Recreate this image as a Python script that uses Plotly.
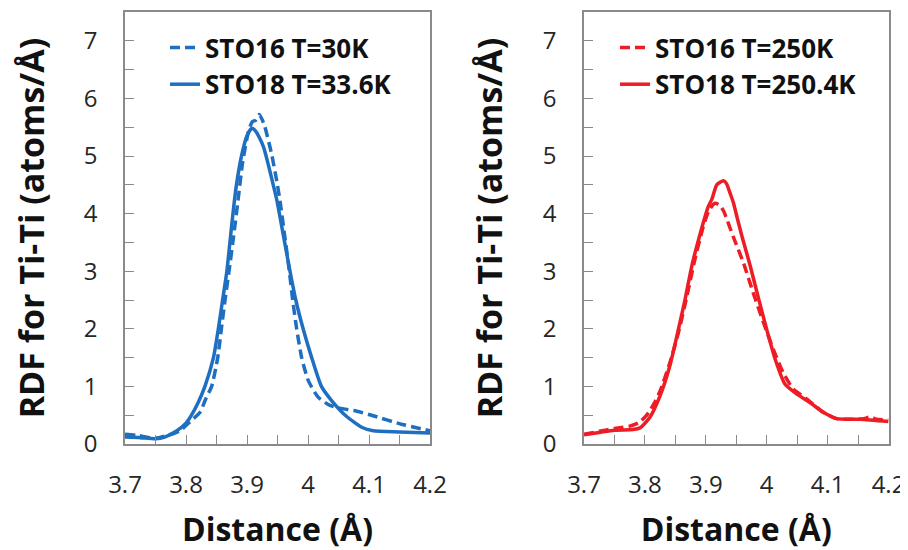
import plotly.graph_objects as go

# ---------------- data ----------------
blue_solid_x = [3.700, 3.725, 3.750, 3.765, 3.785, 3.800, 3.809, 3.820, 3.831, 3.845, 3.853, 3.860,
                3.867, 3.872, 3.877, 3.882, 3.891, 3.900, 3.908, 3.915, 3.927, 3.943, 3.949, 3.960,
                3.9705, 3.980, 3.992, 4.006, 4.022, 4.039, 4.061, 4.088, 4.107, 4.150, 4.200]
blue_solid_y = [0.12, 0.11, 0.09, 0.12, 0.23, 0.36, 0.50, 0.72, 1.00, 1.50, 2.00, 2.50,
                3.00, 3.50, 4.00, 4.45, 5.00, 5.35, 5.48, 5.42, 5.16, 4.50, 4.23, 3.60,
                3.00, 2.50, 2.00, 1.50, 1.00, 0.75, 0.50, 0.29, 0.23, 0.21, 0.19]

blue_dash_x = [3.700, 3.720, 3.750, 3.770, 3.790, 3.806, 3.823, 3.833, 3.842, 3.852, 3.858, 3.864,
               3.8705, 3.878, 3.8853, 3.893, 3.903, 3.909, 3.914, 3.920, 3.928, 3.940, 3.949, 3.954,
               3.962, 3.9694, 3.9749, 3.9814, 3.9896, 4.0005, 4.0169, 4.036, 4.0579, 4.080, 4.107,
               4.1508, 4.200]
blue_dash_y = [0.17, 0.15, 0.10, 0.15, 0.23, 0.38, 0.55, 0.80, 1.00, 1.50, 2.00, 2.50,
               3.00, 3.60, 4.23, 4.90, 5.45, 5.60, 5.62, 5.72, 5.55, 5.05, 4.55, 4.23,
               3.60, 3.00, 2.50, 2.00, 1.50, 1.10, 0.81, 0.67, 0.61, 0.57, 0.49,
               0.35, 0.23]

red_solid_x = [3.700, 3.725, 3.750, 3.781, 3.792, 3.808, 3.825, 3.841, 3.855, 3.866, 3.877, 3.891,
               3.904, 3.910, 3.918, 3.929, 3.934, 3.940, 3.945, 3.951, 3.959, 3.973, 3.987, 4.000,
               4.014, 4.030, 4.049, 4.071, 4.093, 4.115, 4.153, 4.200]
red_solid_y = [0.16, 0.20, 0.24, 0.25, 0.28, 0.46, 0.84, 1.36, 1.99, 2.51, 3.09, 3.66,
               4.12, 4.25, 4.50, 4.57, 4.52, 4.35, 4.20, 3.95, 3.62, 3.09, 2.51, 1.99,
               1.47, 1.04, 0.87, 0.72, 0.55, 0.44, 0.43, 0.39]

red_dash_x = [3.700, 3.725, 3.750, 3.775, 3.790, 3.803, 3.815, 3.825, 3.841, 3.855, 3.869, 3.882,
              3.896, 3.905, 3.915, 3.922, 3.929, 3.945, 3.962, 3.978, 3.995, 4.011, 4.027, 4.044,
              4.066, 4.093, 4.115, 4.140, 4.160, 4.170, 4.180, 4.200]
red_dash_y = [0.17, 0.22, 0.27, 0.31, 0.37, 0.50, 0.70, 0.92, 1.41, 1.93, 2.57, 3.20,
              3.78, 4.05, 4.18, 4.15, 4.05, 3.60, 3.14, 2.62, 2.10, 1.64, 1.24, 0.95,
              0.78, 0.55, 0.44, 0.43, 0.44, 0.47, 0.43, 0.42]

names_left = ["STO16 T=30K", "STO18 T=33.6K"]
names_right = ["STO16 T=250K", "STO18 T=250.4K"]

x_ticks = [3.7, 3.8, 3.9, 4.0, 4.1, 4.2]
x_tick_labels = ["3.7", "3.8", "3.9", "4", "4.1", "4.2"]
y_ticks = [0, 1, 2, 3, 4, 5, 6, 7]

BLUE = "#1f6fc1"
RED = "#ee1c25"
FONT = "Open Sans"
AXC = "#8a8a8a"

fig = go.Figure()

fig.add_trace(go.Scatter(x=blue_dash_x, y=blue_dash_y, mode="lines", name=names_left[0],
                         line=dict(color=BLUE, width=3.5, dash="10px,5px", shape="spline", smoothing=0.6),
                         xaxis="x", yaxis="y", legend="legend", legendgroup="a"))
fig.add_trace(go.Scatter(x=blue_solid_x, y=blue_solid_y, mode="lines", name=names_left[1],
                         line=dict(color=BLUE, width=3.5, shape="spline", smoothing=0.6),
                         xaxis="x", yaxis="y", legend="legend", legendgroup="b"))
fig.add_trace(go.Scatter(x=red_dash_x, y=red_dash_y, mode="lines", name=names_right[0],
                         line=dict(color=RED, width=3.5, dash="10px,5px", shape="spline", smoothing=0.6),
                         xaxis="x2", yaxis="y2", legend="legend2", legendgroup="c"))
fig.add_trace(go.Scatter(x=red_solid_x, y=red_solid_y, mode="lines", name=names_right[1],
                         line=dict(color=RED, width=3.5, shape="spline", smoothing=0.6),
                         xaxis="x2", yaxis="y2", legend="legend2", legendgroup="d"))

# page body has an 8px margin, so the figure is 900x542 and positions are offset by 8px
OFF = 8
W, H = 908 - OFF, 550 - OFF


def fx(px):
    return (px - OFF) / W


def fy(py):
    return 1 - (py - OFF) / H


dom_y = [fy(444), fy(12)]


def xaxis(domain, anchor):
    return dict(domain=domain, anchor=anchor, range=[3.7, 4.2], tickmode="array",
                tickvals=x_ticks, ticktext=x_tick_labels, ticks="inside", ticklen=9,
                tickcolor=AXC, tickwidth=1.2, automargin=False,
                minor=dict(dtick=0.05, ticks="inside", ticklen=9, tickcolor=AXC, tickwidth=1.2,
                           showgrid=False),
                showline=True, linecolor=AXC, linewidth=1.6, mirror=True,
                showgrid=False, zeroline=False, ticklabelstandoff=18,
                tickfont=dict(family=FONT, size=24, color="#262626"),
                title=dict(text="Distance (Å)", standoff=24,
                           font=dict(family=FONT, size=32, color="#111", weight="bold")))


def yaxis(domain, anchor):
    return dict(domain=domain, anchor=anchor, range=[0, 7.5], tickmode="array",
                tickvals=y_ticks, ticks="inside", ticklen=9, tickcolor=AXC, tickwidth=1.2,
                automargin=False,
                minor=dict(dtick=0.5, ticks="inside", ticklen=9, tickcolor=AXC, tickwidth=1.2,
                           showgrid=False),
                showline=True, linecolor=AXC, linewidth=1.6, mirror=True,
                showgrid=False, zeroline=False, ticklabelstandoff=21,
                tickfont=dict(family=FONT, size=24, color="#262626"),
                title=dict(text="RDF for Ti-Ti (atoms/Å)", standoff=30,
                           font=dict(family=FONT, size=34, color="#111", weight="bold")))


legend_common = dict(font=dict(family=FONT, size=26, color="#111", weight="bold"),
                     bgcolor="rgba(0,0,0,0)", borderwidth=0, tracegroupgap=0,
                     itemwidth=30, xanchor="left", yanchor="top")

fig.update_layout(
    width=W, height=H,
    template="none",
    margin=dict(l=0, r=0, t=0, b=0),
    paper_bgcolor="white", plot_bgcolor="white",
    showlegend=True,
    xaxis=xaxis([fx(125), fx(430)], "y"),
    yaxis=yaxis(dom_y, "x"),
    xaxis2=xaxis([fx(584), fx(888.5)], "y2"),
    yaxis2=yaxis(dom_y, "x2"),
    legend=dict(x=fx(165), y=fy(24), **legend_common),
    legend2=dict(x=fx(615), y=fy(24), **legend_common),
)

fig.write_html("out.html")
